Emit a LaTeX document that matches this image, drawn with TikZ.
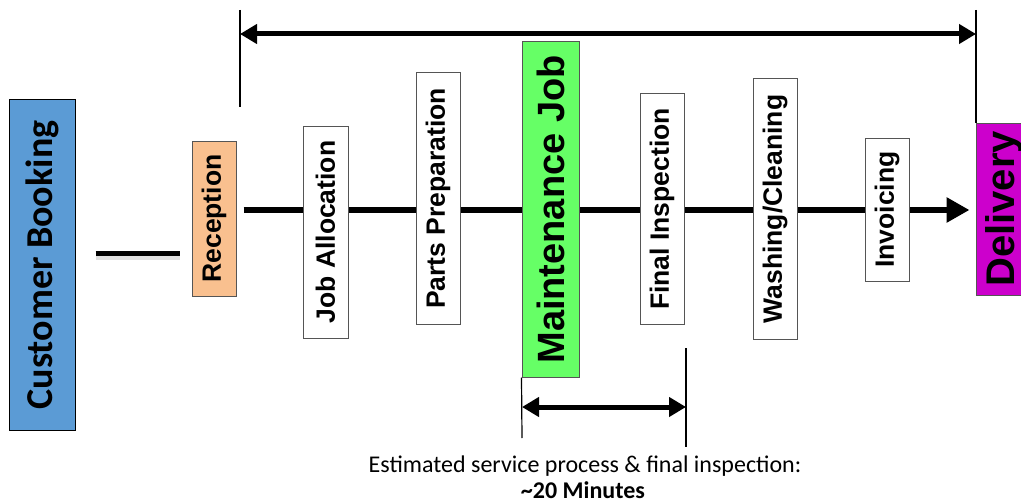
\documentclass[tikz,border=0pt]{standalone}
\usepackage{fontspec}
\setmainfont{Liberation Sans}
\newfontfamily\calib{Carlito}
\usetikzlibrary{arrows.meta}
\definecolor{cbblue}{HTML}{5B9BD5}
\definecolor{recorange}{HTML}{F9C08F}
\definecolor{mjgreen}{HTML}{66FF66}
\definecolor{delmag}{HTML}{CC00CC}
\definecolor{boxline}{HTML}{555555}
\tikzset{
  stagebox/.style={draw=boxline, line width=1pt, fill=white, rotate=90, inner sep=0pt,
    font=\bfseries\fontsize{26.5}{30}\selectfont},
  flowline/.style={line width=6.5pt},
  spanarrow/.style={line width=5pt, {Triangle[length=17pt,width=19pt]}-{Triangle[length=17pt,width=19pt]}},
  tickline/.style={line width=1.2pt},
}
\begin{document}
\begin{tikzpicture}[x=1pt,y=-1pt]
\useasboundingbox (0,0) rectangle (1021,503);
\clip (0,0) rectangle (1021,503);
\coordinate (mainy) at (0,210);
\coordinate (linky) at (0,253);
% nodes (rotated: min width = vertical extent, min height = horizontal extent)
\node[stagebox, fill=cbblue, draw=black, font=\calib\bfseries\fontsize{38}{42}\selectfont,
  minimum width=330pt, minimum height=66pt] (cust) at (42,265) {Customer Booking};
\node[stagebox, fill=recorange, minimum width=155pt, minimum height=44pt] (rec) at (214,218.5) {Reception};
\node[stagebox, fill=delmag, font=\bfseries\fontsize{40}{44}\selectfont,
  minimum width=172pt, minimum height=56pt] (del) at (1004,209) {Delivery};
% main flow line
\draw[flowline, -{Triangle[length=23pt,width=24pt]}, shorten <=7pt, shorten >=6pt] (rec.south |- mainy) -- (del.north |- mainy);
% process boxes
\node[stagebox, minimum width=212pt, minimum height=45pt] (job) at (325.5,232) {Job Allocation};
\node[stagebox, minimum width=251pt, minimum height=44pt] (parts) at (438,198.5) {Parts Preparation};
\node[stagebox, fill=mjgreen, font=\bfseries\fontsize{38}{42}\selectfont,
  minimum width=335pt, minimum height=57pt] (maint) at (550.5,209.5) {Maintenance Job};
\node[stagebox, minimum width=230pt, minimum height=44pt] (final) at (662,209) {Final Inspection};
\node[stagebox, minimum width=260pt, minimum height=44pt] (wash) at (775,209) {Washing/Cleaning};
\node[stagebox, minimum width=143pt, minimum height=44pt] (inv) at (887,209.5) {Invoicing};
% customer to reception connector (with soft shadow)
\draw[line width=7pt, gray!25, shorten <=20pt, shorten >=12pt] ([yshift=-3pt]cust.south |- linky) -- ([yshift=-3pt]rec.north |- linky);
\draw[line width=5pt, shorten <=20pt, shorten >=12pt] (cust.south |- linky) -- (rec.north |- linky);
% top span
\coordinate (tlt) at (240,10);
\coordinate (tlb) at (240,107);
\coordinate (trt) at (976,10);
\coordinate (tal) at (240,34);
\coordinate (tar) at (976,34);
\draw[tickline] (tlt) -- (tlb);
\draw[tickline] (trt) -- (del.east -| trt);
\draw[spanarrow] (tal) -- (tar);
% bottom span
\coordinate (blb) at (522,438);
\coordinate (brt) at (686,348);
\coordinate (brb) at (686,447);
\coordinate (bal) at (522,407);
\coordinate (bar) at (686,407);
\draw[tickline] (maint.north west) -- (blb);
\draw[tickline] (brt) -- (brb);
\draw[spanarrow] (bal) -- (bar);
% caption
\node[anchor=base, font=\calib\fontsize{24}{28}\selectfont, inner sep=0pt] (cap1) at (585,472) {Estimated service process \& final inspection:};
\node[anchor=base, font=\calib\bfseries\fontsize{24}{28}\selectfont, inner sep=0pt] (cap2) at (583,498.5) {\textasciitilde20 Minutes};
\end{tikzpicture}
\end{document}
